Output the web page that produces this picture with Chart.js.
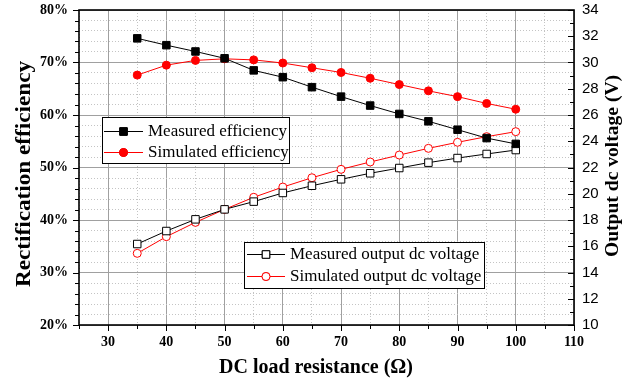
<!DOCTYPE html>
<html>
<head>
<meta charset="utf-8">
<script src="https://cdn.jsdelivr.net/npm/chart.js@4"></script>
<style>
  body { margin: 0; background: #fff; }
  #wrap { width: 642px; height: 383px; position: relative; }
</style>
</head>
<body>
<div id="wrap"><canvas id="chart"></canvas></div>
<script>
// ----- DATA -----
const resistance = [35, 40, 45, 50, 55, 60, 65, 70, 75, 80, 85, 90, 95, 100];
const measuredEff = [74.6, 73.3, 72.1, 70.8, 68.5, 67.2, 65.3, 63.5, 61.8, 60.2, 58.8, 57.2, 55.6, 54.5];
const simulatedEff = [67.6, 69.5, 70.4, 70.7, 70.5, 69.9, 69.0, 68.1, 67.0, 65.8, 64.6, 63.5, 62.2, 61.1];
const measuredVolt = [16.17, 17.16, 18.05, 18.81, 19.4, 20.06, 20.61, 21.1, 21.56, 21.96, 22.37, 22.72, 23.03, 23.33];
const simulatedVolt = [15.46, 16.73, 17.82, 18.81, 19.73, 20.51, 21.22, 21.86, 22.42, 22.95, 23.46, 23.92, 24.35, 24.73];

const serif = '"Liberation Serif", "Times New Roman", serif';
const sans = '"Liberation Sans", Arial, sans-serif';

function pts(ys) {
  return resistance.map((x, i) => ({ x: x, y: ys[i] }));
}

function series(label, ys, color, style, filled, axis) {
  return {
    label: label,
    data: pts(ys),
    yAxisID: axis,
    borderColor: color,
    borderWidth: 1,
    backgroundColor: filled ? color : '#fff',
    pointBackgroundColor: filled ? color : '#fff',
    pointBorderColor: color,
    pointBorderWidth: 1,
    pointStyle: style,
    pointRadius: style === 'rect' ? 5.3 : 4,
    tension: 0,
    fill: false
  };
}

// scale boxes are fixed so the plot area sits where it does in the figure
function fixBox(size) {
  return s => {
    if (s.isHorizontal()) s.height = size; else s.width = size;
    s.paddingTop = 0; s.paddingBottom = 0; s.paddingLeft = 0; s.paddingRight = 0;
  };
}

// ----- LEGEND BOXES + TITLES + TICK MARKS + FRAME -----
const legendBoxes = [
  { box: [102, 117, 187, 46], line: [104, 143], textX: 148, rows: [[131, 0], [152, 1]] },
  { box: [244, 242, 240, 46], line: [247, 285], textX: 290, rows: [[254, 2], [276, 3]] }
];

function verticalTitle(ctx, text, x, y, stretch) {
  ctx.save();
  ctx.translate(x, y);
  ctx.rotate(-Math.PI / 2);
  ctx.scale(stretch, 1);
  ctx.fillText(text, 0, 0);
  ctx.restore();
}

const decorPlugin = {
  id: 'decor',
  afterDraw(chart) {
    const ctx = chart.ctx;
    const a = chart.chartArea;
    const sx = chart.scales.x, sy = chart.scales.y, sr = chart.scales.y2;
    ctx.save();
    ctx.strokeStyle = '#000';
    ctx.lineWidth = 1;
    // tick marks
    sy.ticks.forEach(t => {
      const p = Math.round(sy.getPixelForValue(t.value)) + 0.5;
      const len = t.value % 10 === 0 ? 6 : 4;
      ctx.beginPath(); ctx.moveTo(a.left - len, p); ctx.lineTo(a.left, p); ctx.stroke();
    });
    sr.ticks.forEach(t => {
      const p = Math.round(sr.getPixelForValue(t.value)) + 0.5;
      const len = t.value % 2 === 0 ? 6 : 4;
      ctx.beginPath(); ctx.moveTo(a.right - len, p); ctx.lineTo(a.right, p); ctx.stroke();
    });
    sx.ticks.forEach(t => {
      const p = Math.round(sx.getPixelForValue(t.value)) + 0.5;
      const len = t.value % 10 === 0 ? 6 : 4;
      ctx.beginPath(); ctx.moveTo(p, a.bottom); ctx.lineTo(p, a.bottom + len); ctx.stroke();
    });
    // frame
    ctx.lineWidth = 1.6;
    ctx.strokeRect(a.left, a.top, a.right - a.left, a.bottom - a.top);

    // axis titles
    ctx.fillStyle = '#000';
    ctx.textAlign = 'center';
    ctx.textBaseline = 'middle';
    ctx.font = 'bold 20px ' + serif;
    ctx.fillText('DC load resistance (Ω)', 316, 368);
    verticalTitle(ctx, 'Rectification efficiency', 25, 174, 1.16);
    ctx.font = 'bold 19px ' + serif;
    verticalTitle(ctx, 'Output dc voltage (V)', 613, 166, 1.03);

    // legends
    ctx.font = '17px ' + serif;
    ctx.textBaseline = 'middle';
    legendBoxes.forEach(lg => {
      const [bx, by, bw, bh] = lg.box;
      ctx.fillStyle = '#fff';
      ctx.fillRect(bx, by, bw, bh);
      ctx.lineWidth = 1;
      ctx.strokeStyle = '#000';
      ctx.strokeRect(bx + 0.5, by + 0.5, bw, bh);
      lg.rows.forEach(([y, di]) => {
        const ds = chart.data.datasets[di];
        ctx.strokeStyle = ds.borderColor;
        ctx.lineWidth = 1;
        ctx.beginPath(); ctx.moveTo(lg.line[0], y + 0.5); ctx.lineTo(lg.line[1], y + 0.5); ctx.stroke();
        Chart.helpers.drawPoint(ctx, {
          pointStyle: ds.pointStyle, radius: ds.pointRadius, rotation: 0, borderWidth: 1
        }, (lg.line[0] + lg.line[1]) / 2, y + 0.5);
        ctx.fillStyle = ds.pointBackgroundColor;
        ctx.fill();
        ctx.strokeStyle = ds.pointBorderColor;
        ctx.stroke();
        ctx.fillStyle = '#000';
        ctx.textAlign = 'left';
        ctx.fillText(ds.label, lg.textX, y + 1);
      });
    });
    ctx.restore();
  }
};

const majorOr = (a, b, step) => c => c.tick && c.tick.value % step === 0 ? a : b;

const ctx = document.getElementById('chart').getContext('2d');
new Chart(ctx, {
  type: 'line',
  data: {
    datasets: [
      series('Measured efficiency', measuredEff, '#000', 'rect', true, 'y'),
      series('Simulated efficiency', simulatedEff, '#ff0000', 'circle', true, 'y'),
      series('Measured output dc voltage', measuredVolt, '#000', 'rect', false, 'y2'),
      series('Simulated output dc voltage', simulatedVolt, '#ff0000', 'circle', false, 'y2')
    ]
  },
  options: {
    responsive: true,
    maintainAspectRatio: false,
    animation: false,
    layout: { padding: { top: 10, left: 0, right: 0, bottom: 0 } },
    plugins: { legend: { display: false }, tooltip: { enabled: false } },
    scales: {
      x: {
        type: 'linear', min: 25, max: 110,
        afterFit: fixBox(58),
        ticks: {
          stepSize: 5, autoSkip: false, maxRotation: 0, padding: 9,
          color: '#000', font: { family: serif, size: 14, weight: 'bold' },
          callback: v => (v % 10 === 0 && v >= 30) ? v : ''
        },
        grid: { drawTicks: false, color: majorOr('#a0a0a0', '#c4c4c4', 10), lineWidth: 1 },
        border: { display: false, dash: majorOr([], [1, 2], 10) }
      },
      y: {
        position: 'left', min: 20, max: 80,
        afterFit: fixBox(79),
        ticks: {
          stepSize: 2, autoSkip: false, padding: 11,
          color: '#000', font: { family: serif, size: 14, weight: 'bold' },
          callback: v => v % 10 === 0 ? v + '%' : ''
        },
        grid: { drawTicks: false, color: majorOr('#a0a0a0', '#c4c4c4', 10), lineWidth: 1 },
        border: { display: false, dash: majorOr([], [1, 2], 10) }
      },
      y2: {
        position: 'right', min: 10, max: 34,
        afterFit: fixBox(68),
        ticks: {
          stepSize: 1, autoSkip: false, padding: 8,
          color: '#000', font: { family: sans, size: 15 },
          callback: v => v % 2 === 0 ? v : ''
        },
        grid: { display: false, drawTicks: false },
        border: { display: false }
      }
    }
  },
  plugins: [decorPlugin]
});
</script>
</body>
</html>
